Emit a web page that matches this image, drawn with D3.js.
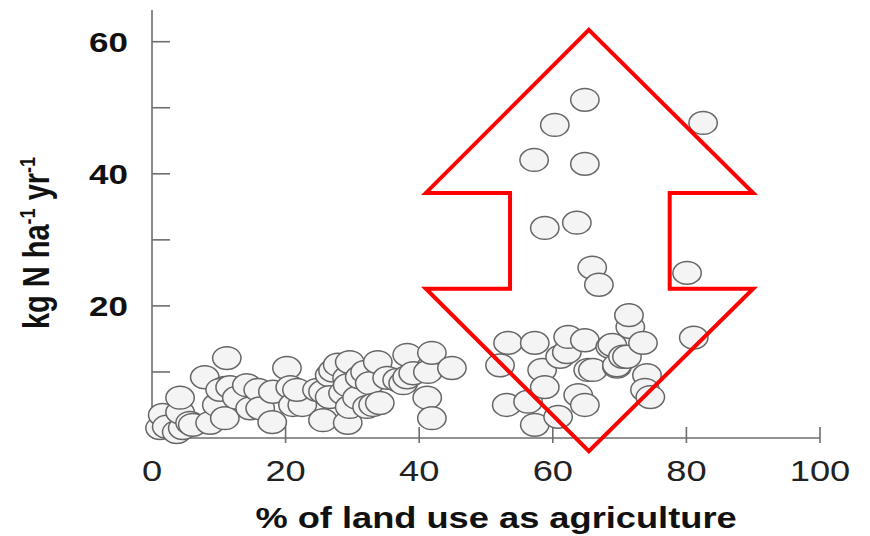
<!DOCTYPE html>
<html>
<head>
<meta charset="utf-8">
<script src="https://cdn.jsdelivr.net/npm/d3@7"></script>
<style>
  html, body { margin: 0; padding: 0; background: #fff; }
  svg { display: block; }
  text { font-family: "Liberation Sans", Arial, sans-serif; }
</style>
</head>
<body>
<svg id="chart" width="870" height="536"></svg>
<script>
// Watershed N export vs. share of agricultural land use
const agriculturePct = [
  1.2, 1.6, 2.2, 3.7, 4.6, 4.2, 4.2, 5.7, 6.1, 8.7, 7.9, 9.7, 10.9, 10.9, 10.2, 11.7,
  11.2, 12.7, 14.2, 14.7, 15.9, 16.2, 18.0, 18.1, 20.2, 20.7, 21.1, 22.5, 21.7, 24.7,
  25.6, 25.6, 26.6, 26.6, 27.1, 27.8, 28.6, 29.2, 29.3, 29.3, 29.6, 29.6, 30.7, 31.1,
  31.9, 32.2, 32.6, 33.1, 33.8, 34.1, 35.2, 36.7, 37.6, 38.2, 38.2, 39.1, 41.3, 41.9,
  41.2, 41.9, 44.9,
  52.1, 53.3, 57.3, 53.1, 56.3, 57.3, 58.4, 58.8, 60.8, 61.1, 62.1, 62.3, 64.8, 65.3,
  63.8, 64.8, 66.0, 68.6, 68.9, 69.6, 69.6, 70.5, 71.1, 71.6, 71.4, 73.5, 74.1, 73.8,
  74.6, 81.1, 80.1, 82.5, 64.8, 60.3, 57.2, 64.8, 58.8, 63.6, 65.9, 66.9
];
const nExport = [
  1.5, 3.5, 1.7, 0.9, 1.5, 3.9, 6.1, 2.3, 2.0, 2.3, 9.2, 5.0, 3.0, 7.6, 7.3, 7.7,
  12.1, 6.1, 8.0, 4.5, 7.3, 4.5, 2.4, 7.0, 10.6, 7.7, 5.0, 5.0, 7.3, 7.3,
  7.0, 2.7, 9.5, 6.2, 10.2, 11.1, 6.8, 9.1, 8.0, 2.3, 11.5, 4.7, 6.1, 9.2,
  10.0, 4.7, 8.3, 5.0, 11.5, 5.3, 9.1, 8.8, 8.3, 12.6, 9.2, 9.8, 10.0, 12.9,
  6.1, 3.0, 10.6,
  11.0, 14.4, 14.4, 5.0, 5.5, 2.0, 10.3, 7.7, 3.2, 12.3, 13.0, 15.3, 14.8, 10.3,
  6.5, 5.0, 10.3, 13.8, 14.1, 10.8, 11.0, 12.3, 12.3, 16.8, 18.6, 14.4, 9.5, 7.3,
  6.2, 15.2, 25.0, 47.7, 51.2, 47.4, 42.1, 41.5, 31.8, 32.6, 25.8, 23.2
];

const xTicks = [0, 20, 40, 60, 80, 100];
const yTicks = [10, 20, 30, 40, 50, 60];
const yTickLabels = [20, 40, 60];

// Double-headed arrow outline, in axis units
const arrowX = [65.4, 90.0, 77.5, 77.5, 90.0, 65.4, 41.0, 53.6, 53.6, 41.0];
const arrowY = [61.8, 37.1, 37.1, 22.6, 22.6, -2.0, 22.6, 22.6, 37.1, 37.1];

const svg = d3.select("#chart");
const x = d3.scaleLinear().domain([0, 100]).range([152, 820]);
const y = d3.scaleLinear().domain([0, 64.8]).range([438, 10]);
const stretch = 1.25;

// axes
const axisColor = "#6e6e6e";
svg.append("line")
  .attr("x1", x(0)).attr("x2", x(0)).attr("y1", y(64.8)).attr("y2", y(0))
  .attr("stroke", axisColor).attr("stroke-width", 1.6);
svg.append("line")
  .attr("x1", x(0)).attr("x2", x(100)).attr("y1", y(0)).attr("y2", y(0))
  .attr("stroke", axisColor).attr("stroke-width", 1.6);

svg.selectAll(".ytick").data(yTicks).enter().append("line")
  .attr("x1", x(0)).attr("x2", x(0) + 18)
  .attr("y1", d => y(d)).attr("y2", d => y(d))
  .attr("stroke", axisColor).attr("stroke-width", 1.6);

svg.selectAll(".xtick").data(xTicks.slice(1)).enter().append("line")
  .attr("x1", d => x(d)).attr("x2", d => x(d))
  .attr("y1", y(0) - 11).attr("y2", y(0) + 5)
  .attr("stroke", axisColor).attr("stroke-width", 1.6);

svg.selectAll(".ylab").data(yTickLabels).enter().append("text")
  .attr("transform", d => `translate(128,${y(d)}) scale(${stretch},1)`)
  .attr("text-anchor", "end").attr("dy", "0.36em")
  .attr("font-size", 28).attr("font-weight", "bold").attr("fill", "#111")
  .text(d => d);

svg.selectAll(".xlab").data(xTicks).enter().append("text")
  .attr("transform", d => `translate(${x(d)},481) scale(${stretch},1)`)
  .attr("text-anchor", "middle")
  .attr("font-size", 29).attr("fill", "#222")
  .text(d => d);

// axis titles
svg.append("text")
  .attr("transform", `translate(496,528) scale(${stretch},1)`)
  .attr("text-anchor", "middle")
  .attr("font-size", 29).attr("font-weight", "bold").attr("fill", "#111")
  .text("% of land use as agriculture");

const yTitle = svg.append("text")
  .attr("transform", `translate(49,243) scale(${stretch},1) rotate(-90)`)
  .attr("text-anchor", "middle")
  .attr("font-size", 29).attr("font-weight", "bold").attr("fill", "#111");
yTitle.append("tspan").text("kg N ha");
yTitle.append("tspan").attr("font-size", 18).attr("dy", -11).text("-1");
yTitle.append("tspan").attr("dy", 11).text(" yr");
yTitle.append("tspan").attr("font-size", 18).attr("dy", -11).text("-1");

// data points
const pts = agriculturePct.map((v, i) => ({ a: v, n: nExport[i] }));
svg.append("g").selectAll("ellipse").data(pts).enter().append("ellipse")
  .attr("cx", d => x(d.a)).attr("cy", d => y(d.n))
  .attr("rx", 14.2).attr("ry", 11.4)
  .attr("fill", "#f4f4f4").attr("stroke", "#666").attr("stroke-width", 1.5);

// arrow
const arrowPts = arrowX.map((v, i) => [x(v), y(arrowY[i])]);
svg.append("path")
  .attr("d", d3.line()(arrowPts) + "Z")
  .attr("fill", "none").attr("stroke", "#ff0000").attr("stroke-width", 4)
  .attr("stroke-linejoin", "miter");
</script>
</body>
</html>
